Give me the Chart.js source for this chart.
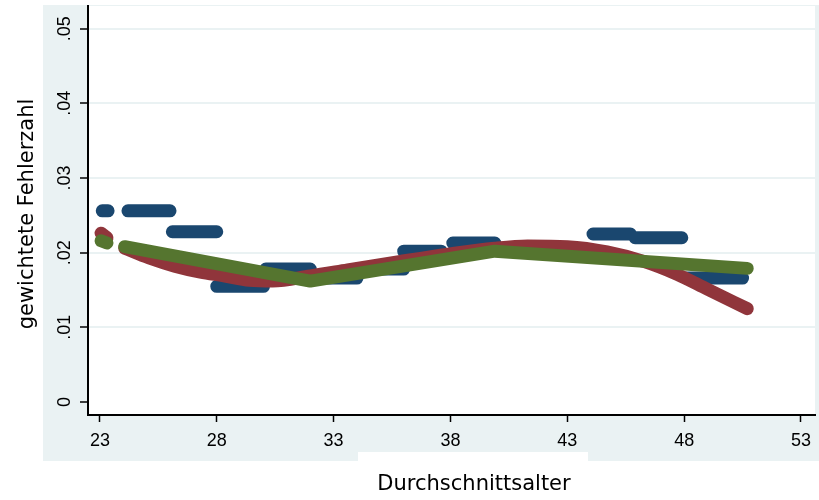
<!DOCTYPE html>
<html><head><meta charset="utf-8">
<script src="https://cdn.jsdelivr.net/npm/chart.js@4/dist/chart.umd.min.js"></script>
<style>html,body{margin:0;padding:0;background:#fff;overflow:hidden}#wrap{width:819px;height:500px;position:relative}</style>
</head><body><div id="wrap"><canvas id="c" width="819" height="500"></canvas></div>
<script>
const xTicks=[23,28,33,38,43,48,53];
const xTickLabels=['23','28','33','38','43','48','53'];
const yTicks=[0,0.01,0.02,0.03,0.04,0.05];
const yTickLabels=['0','.01','.02','.03','.04','.05'];
const xTitle='Durchschnittsalter';
const yTitle='gewichtete Fehlerzahl';

// blue: weighted error count per age group (horizontal runs of points)
const blueStart=[23.1,24.2,26.1,28.0,30.1,32.1,34.0,36.0,38.1,40.1,44.1,45.9,48.1];
const blueEnd  =[23.35,26.0,28.0,30.0,32.0,34.0,36.0,37.6,39.9,44.0,45.7,47.9,50.5];
const blueValue=[0.0256,0.0256,0.0228,0.0155,0.0178,0.0166,0.0178,0.0202,0.0213,0.0203,0.0225,0.0220,0.0166];

// red: smooth fit
const redBlobX=[23.05,23.3];
const redBlobY=[0.0226,0.0220];
const redX=[24.06,25.1,26.2,27.3,28.3,29.4,30.4,32.0,33.6,35.8,37.9,39.9,41.3,43.0,44.7,46.3,47.7,49.0,50.7];
const redY=[0.0206,0.0193,0.0182,0.0174,0.0169,0.0163,0.0162,0.0169,0.0177,0.0188,0.0198,0.0206,0.0209,0.0208,0.0201,0.0188,0.0171,0.0151,0.0125];

// green: piecewise linear fit
const greenBlobX=[23.05,23.3];
const greenBlobY=[0.0216,0.0213];
const greenX=[24.06,32.0,39.9,50.7];
const greenY=[0.0208,0.0162,0.0202,0.0179];

const BG='#eaf2f3';
const NAVY='#1a476f', MAROON='#90353b', FOREST='#55752f';

const blueData=[];
blueStart.forEach((s,i)=>{
  blueData.push({x:s,y:blueValue[i]});
  blueData.push({x:blueEnd[i],y:blueValue[i]});
  if(i<blueStart.length-1) blueData.push({x:(blueEnd[i]+blueStart[i+1])/2,y:null});
});
const pts=(xs,ys)=>xs.map((x,i)=>({x:x,y:ys[i]}));

const deco={
  id:'deco',
  beforeDraw(chart){
    const c=chart.ctx,a=chart.chartArea;
    c.save();
    c.fillStyle='#fff';c.fillRect(0,0,chart.width,chart.height);
    c.fillStyle=BG;c.fillRect(43,5,chart.width-43,456);
    c.fillStyle='#fff';c.fillRect(358,452,230,9);
    c.fillRect(a.left,a.top,a.right-a.left,a.bottom-a.top);
    c.restore();
  },
  afterDraw(chart){
    const c=chart.ctx,ys=chart.scales.y;
    c.save();
    c.fillStyle='#000';
    c.font='18px "Liberation Sans", Arial, sans-serif';
    c.textAlign='center';c.textBaseline='middle';
    yTicks.forEach((v,i)=>{
      const py=ys.getPixelForValue(v);
      c.save();c.translate(65,py);c.rotate(-Math.PI/2);c.fillText(yTickLabels[i],0,0);c.restore();
    });
    c.font='21px "DejaVu Sans", sans-serif';
    c.save();c.translate(28,214);c.rotate(-Math.PI/2);c.fillText(yTitle,0,0);c.restore();
    c.fillText(xTitle,474,485);
    c.restore();
  }
};

new Chart(document.getElementById('c'),{
  type:'line',
  data:{datasets:[
    {label:'green',data:pts(greenX,greenY),borderColor:FOREST,borderWidth:13,pointRadius:0,tension:0,borderCapStyle:'round',borderJoinStyle:'round',order:1},
    {label:'green0',data:pts(greenBlobX,greenBlobY),borderColor:FOREST,borderWidth:13,pointRadius:0,tension:0,borderCapStyle:'round',borderJoinStyle:'round',order:1},
    {label:'red',data:pts(redX,redY),borderColor:MAROON,borderWidth:13,pointRadius:0,cubicInterpolationMode:'monotone',borderCapStyle:'round',borderJoinStyle:'round',order:2},
    {label:'red0',data:pts(redBlobX,redBlobY),borderColor:MAROON,borderWidth:13,pointRadius:0,tension:0,borderCapStyle:'round',borderJoinStyle:'round',order:2},
    {label:'blue',data:blueData,borderColor:NAVY,borderWidth:13,pointRadius:0,tension:0,spanGaps:false,borderCapStyle:'round',borderJoinStyle:'round',order:3}
  ]},
  options:{
    responsive:false,animation:false,events:[],
    layout:{padding:{top:6,left:0,right:0,bottom:0}},
    plugins:{legend:{display:false},tooltip:{enabled:false}},
    scales:{
      x:{type:'linear',min:22.49,max:53.6,
        afterBuildTicks(s){s.ticks=xTicks.map(v=>({value:v}));},
        afterFit(s){s.height=85;},
        grid:{drawOnChartArea:false,drawTicks:true,tickLength:7,tickColor:'#000',tickWidth:1.5},
        border:{display:true,color:'#000',width:2},
        ticks:{color:'#000',font:{family:'"Liberation Sans", Arial, sans-serif',size:18},padding:8,maxRotation:0,minRotation:0,autoSkip:false,
          callback:(v)=>{const i=xTicks.indexOf(v);return i>=0?xTickLabels[i]:'';}}
      },
      y:{type:'linear',min:-0.00174,max:0.05304,
        afterBuildTicks(s){s.ticks=yTicks.map(v=>({value:v}));},
        afterFit(s){s.width=88;},
        grid:{color:(c)=>(c.tick&&c.tick.value===0)?'rgba(0,0,0,0)':BG,lineWidth:2,tickColor:'#000',tickLength:8,tickWidth:1.5},
        border:{display:true,color:'#000',width:2},
        ticks:{display:false}
      }
    }
  },
  plugins:[deco]
});
</script></body></html>
